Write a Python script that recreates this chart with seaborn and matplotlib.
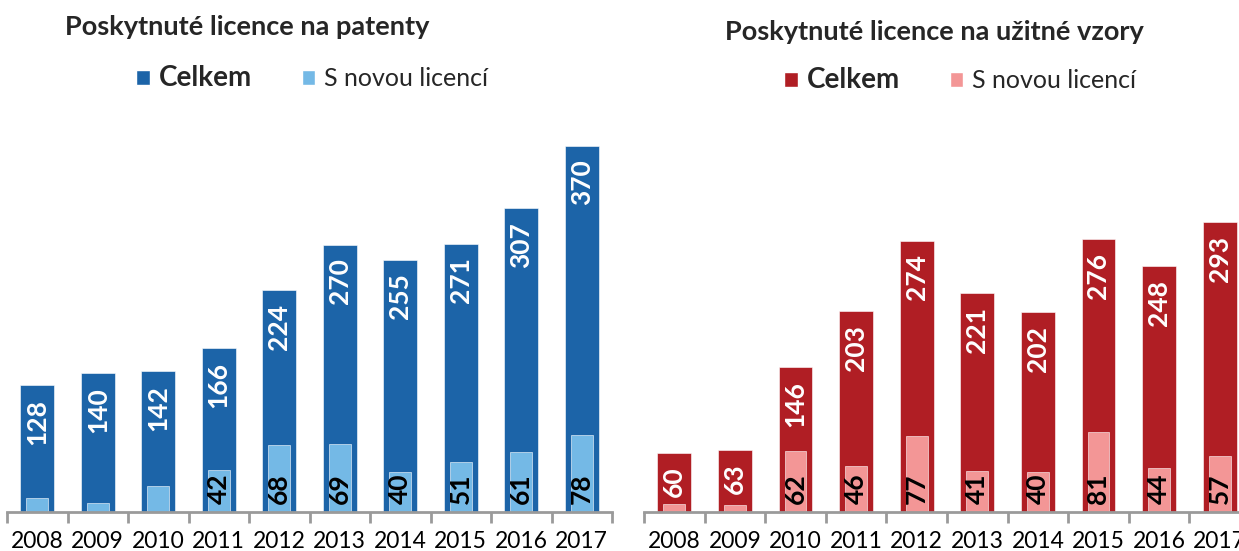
import matplotlib
matplotlib.use("Agg")
import matplotlib.pyplot as plt
from matplotlib.patches import Patch
import seaborn as sns
import pandas as pd

years = ["2008", "2009", "2010", "2011", "2012", "2013", "2014", "2015", "2016", "2017"]
patents_total = [128, 140, 142, 166, 224, 270, 255, 271, 307, 370]
patents_new = [14, 9, 26, 42, 68, 69, 40, 51, 61, 78]
models_total = [60, 63, 146, 203, 274, 221, 202, 276, 248, 293]
models_new = [8, 7, 62, 46, 77, 41, 40, 81, 44, 57]

title_left = "Poskytnuté licence na patenty"
title_right = "Poskytnuté licence na užitné vzory"
label_total = "Celkem"
label_new = "S novou licencí"

sns.set_theme(style="white")
plt.rcParams["font.family"] = ["Lato", "DejaVu Sans"]

W, H = 1239, 551
fig = plt.figure(figsize=(W / 100, H / 100), dpi=100)

blue_dark, blue_light = "#1c64a8", "#74b9e6"
red_dark, red_light = "#b01e24", "#f39696"


def panel(rect, total, new, cdark, clight, title, title_xy, leg_xy):
    ax = fig.add_axes(rect)
    df = pd.DataFrame({"year": years, "total": total, "new": new})
    sns.barplot(data=df, x="year", y="total", color=cdark, width=0.56,
                saturation=1, ax=ax, edgecolor="white", linewidth=0.4)
    sns.barplot(data=df, x="year", y="new", color=clight, width=0.36,
                saturation=1, ax=ax, edgecolor="white", linewidth=0.4)
    ax.set_ylim(0, 400)
    ax.set_xlim(-0.5, len(years) - 0.5)
    ax.set_xlabel("")
    ax.set_ylabel("")
    ax.set_yticks([])
    for s in ["top", "right", "left"]:
        ax.spines[s].set_visible(False)
    ax.spines["bottom"].set_color("#9a9a9a")
    ax.spines["bottom"].set_linewidth(2)
    ax.set_xticks([i - 0.5 for i in range(len(years) + 1)], minor=True)
    ax.tick_params(axis="x", which="minor", length=8, width=2, color="#9a9a9a",
                   direction="out", bottom=True)
    ax.tick_params(axis="x", which="major", length=0, pad=14, labelsize=16.5,
                   labelcolor="black")
    # value labels
    for i, (t, n) in enumerate(zip(total, new)):
        ax.text(i, t - 14, str(t), rotation=90, ha="center", va="top",
                color="white", fontsize=19, fontweight="bold")
        if n >= 30:
            ax.text(i, 8, str(n), rotation=90, ha="center", va="bottom",
                    color="black", fontsize=19, fontweight="bold")
    fig.text(title_xy[0] / W, 1 - title_xy[1] / H, title, ha="left", va="center",
             fontsize=19.5, fontweight="bold")
    handles = [Patch(facecolor=cdark, label=label_total),
               Patch(facecolor=clight, label=label_new)]
    leg = fig.legend(handles=handles, loc="center",
                     bbox_to_anchor=(leg_xy[0] / W, 1 - leg_xy[1] / H),
                     ncol=2, frameon=False, fontsize=18, handlelength=0.55,
                     handleheight=0.55, handletextpad=0.35, columnspacing=2.0)
    leg.get_texts()[0].set_fontweight("bold")
    leg.get_texts()[0].set_fontsize(20)
    return ax


panel([7 / W, 39 / H, 605 / W, 396 / H], patents_total, patents_new,
      blue_dark, blue_light, title_left, (65, 27), (312, 78))
panel([644 / W, 39 / H, 606 / W, 396 / H], models_total, models_new,
      red_dark, red_light, title_right, (725, 32), (960, 80))

fig.savefig("out.png", dpi=100)
